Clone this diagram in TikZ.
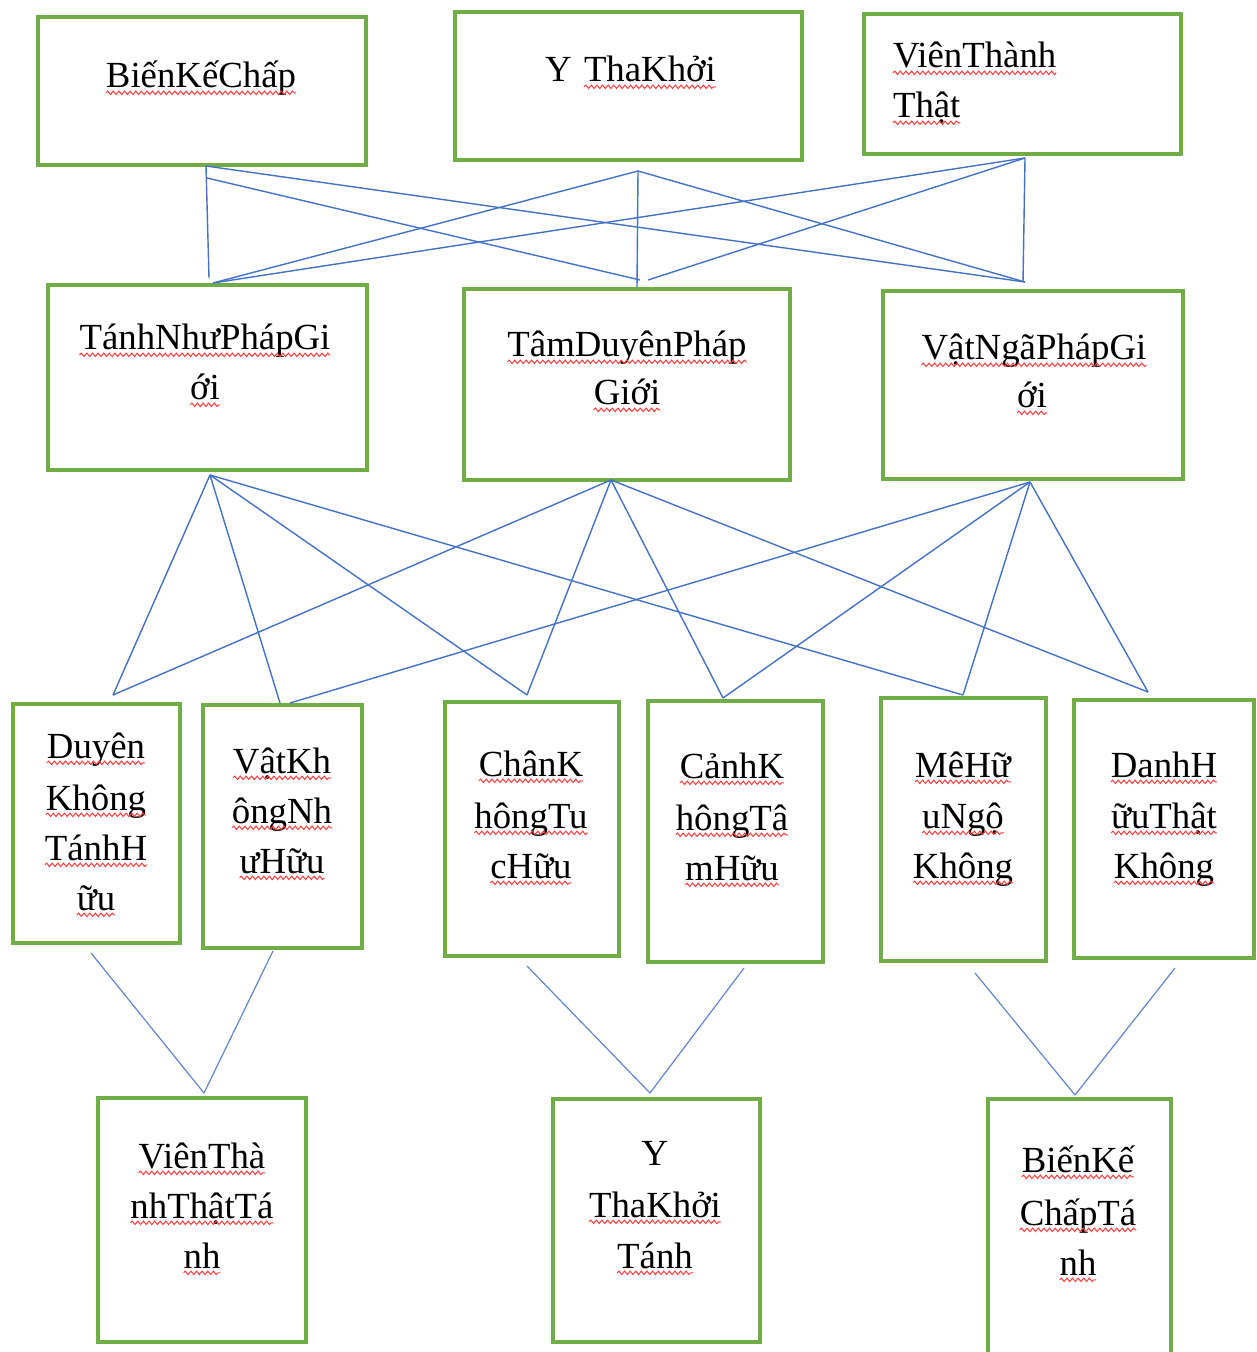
\documentclass[tikz,border=0pt]{standalone}
\usepackage{fontspec}
\setmainfont{Liberation Serif}
\usetikzlibrary{calc,fit,decorations.pathmorphing}
\definecolor{boxgreen}{RGB}{112,173,71}
\definecolor{linkblue}{RGB}{68,114,196}
\definecolor{wavered}{RGB}{255,60,60}
\newcommand\bx[5]{\node[box,fit={(#2,#3) (#4,#5)}] (#1) {};}
\newcommand\tl[5][]{\node[txt,#1] (#2) at (#3,#4) {#5};
  \draw[wave] ([yshift=-2.4pt]#2.base west) -- ([yshift=-2.4pt]#2.base east);}
\begin{document}
\begin{tikzpicture}[x=0.5pt,y=-0.5pt,
  box/.style={draw=boxgreen,line width=1.8pt,rectangle,inner sep=0pt,outer sep=0pt},
  txt/.style={inner sep=0pt,outer sep=0pt,anchor=base,font=\fontsize{18.4}{25}\selectfont},
  link/.style={draw=linkblue,line width=0.7pt},
  linkb/.style={draw=linkblue!85,line width=0.6pt},
  wave/.style={draw=wavered,line width=0.5pt,decorate,decoration={snake,amplitude=0.85pt,segment length=2.8pt}}]
\useasboundingbox (0,0) rectangle (1256,1352);
\clip (0,0) rectangle (1256,1352);
\fill[white] (0,0) rectangle (1256,1352);

% boxes
\bx{B1}{38}{17}{366}{165}
\bx{B2}{455}{12}{802}{160}
\bx{B3}{864}{14}{1181}{154}
\bx{M1}{48}{285}{367}{470}
\bx{M2}{464}{289}{790}{480}
\bx{M3}{883}{291}{1183}{479}
\bx{L1}{13}{704}{180}{943}
\bx{L2}{203}{705}{362}{948}
\bx{L3}{445}{702}{619}{956}
\bx{L4}{648}{701}{823}{962}
\bx{L5}{881}{698}{1046}{961}
\bx{L6}{1074}{700}{1254}{958}
\bx{P1}{98}{1098}{306}{1342}
\bx{P2}{553}{1099}{760}{1342}
\bx{P3}{988}{1099}{1171}{1400}

% texts
\tl{tB1}{201}{88}{BiếnKếChấp}
\node[txt,anchor=base west] (tB2y) at (545,82) {Y};
\tl[anchor=base west]{tB2}{584}{82}{ThaKhởi}
\tl[anchor=base west]{tB3a}{893}{68}{ViênThành}
\tl[anchor=base west]{tB3b}{893}{118}{Thật}

\tl{tM1a}{205}{350}{TánhNhưPhápGi}
\tl{tM1b}{205}{400}{ới}
\tl{tM2a}{627}{357}{TâmDuyênPháp}
\tl{tM2b}{627}{405}{Giới}
\tl{tM3a}{1034}{360}{VậtNgãPhápGi}
\tl{tM3b}{1032}{408}{ới}

\tl{tL1a}{96}{758}{Duyên}
\tl{tL1b}{96}{810}{Không}
\tl{tL1c}{96}{860}{TánhH}
\tl{tL1d}{96}{910}{ữu}
\tl{tL2a}{282}{773}{VậtKh}
\tl{tL2b}{282}{823}{ôngNh}
\tl{tL2c}{282}{873}{ưHữu}
\tl{tL3a}{531}{776}{ChânK}
\tl{tL3b}{531}{828}{hôngTu}
\tl{tL3c}{531}{878}{cHữu}
\tl{tL4a}{732}{778}{CảnhK}
\tl{tL4b}{732}{830}{hôngTâ}
\tl{tL4c}{732}{880}{mHữu}
\tl{tL5a}{963}{777}{MêHữ}
\tl{tL5b}{963}{828}{uNgộ}
\tl{tL5c}{963}{878}{Không}
\tl{tL6a}{1164}{777}{DanhH}
\tl{tL6b}{1164}{828}{ữuThật}
\tl{tL6c}{1164}{878}{Không}

\tl{tP1a}{202}{1168}{ViênThà}
\tl{tP1b}{202}{1218}{nhThậtTá}
\tl{tP1c}{202}{1268}{nh}
\node[txt] (tP2a) at (655,1165) {Y};
\tl{tP2b}{655}{1217}{ThaKhởi}
\tl{tP2c}{655}{1268}{Tánh}
\tl{tP3a}{1078}{1172}{BiếnKế}
\tl{tP3b}{1078}{1225}{ChấpTá}
\tl{tP3c}{1078}{1275}{nh}

% top -> middle
\draw[link] ([shift={(4,1)}]B1.south) -- ([shift={(1.5,-7)}]M1.north);
\draw[link] ([shift={(5,13)}]B1.south) -- ([shift={(13,-9)}]M2.north);
\draw[link] ([shift={(4,1)}]B1.south) -- ([shift={(-8,-9)}]M3.north);
\draw[link] ([shift={(9.5,11)}]B2.south) -- ([shift={(5.5,-2)}]M1.north);
\draw[link] ([shift={(9.5,11)}]B2.south) -- ([shift={(10,-2)}]M2.north);
\draw[link] ([shift={(9.5,11)}]B2.south) -- ([shift={(-8,-9)}]M3.north);
\draw[link] ([shift={(2.5,4)}]B3.south) -- ([shift={(5.5,-2)}]M1.north);
\draw[link] ([shift={(2.5,4)}]B3.south) -- ([shift={(21,-9)}]M2.north);
\draw[link] ([shift={(2.5,4)}]B3.south) -- ([shift={(-10,-9)}]M3.north);

% middle -> third row
\draw[link] ([shift={(2.5,5)}]M1.south) -- ([shift={(16.5,-9)}]L1.north);
\draw[link] ([shift={(2.5,5)}]M1.south) -- ([shift={(-2.5,-2)}]L2.north);
\draw[link] ([shift={(2.5,5)}]M1.south) -- ([shift={(-5,-7)}]L3.north);
\draw[link] ([shift={(2.5,5)}]M1.south) -- ([shift={(-0.5,-3)}]L5.north);
\draw[link] ([shift={(-16,0)}]M2.south) -- ([shift={(16.5,-9)}]L1.north);
\draw[link] ([shift={(-16,0)}]M2.south) -- ([shift={(-5,-7)}]L3.north);
\draw[link] ([shift={(-16,0)}]M2.south) -- ([shift={(-12.5,-3)}]L4.north);
\draw[link] ([shift={(-16,0)}]M2.south) -- ([shift={(-16,-8)}]L6.north);
\draw[link] ([shift={(-3,3)}]M3.south) -- ([shift={(7.5,-2)}]L2.north);
\draw[link] ([shift={(-3,3)}]M3.south) -- ([shift={(-12.5,-3)}]L4.north);
\draw[link] ([shift={(-3,3)}]M3.south) -- ([shift={(-0.5,-3)}]L5.north);
\draw[link] ([shift={(-3,3)}]M3.south) -- ([shift={(-16,-8)}]L6.north);

% third row -> bottom
\draw[linkb] ([shift={(-5.5,10)}]L1.south) -- ([shift={(2,-5)}]P1.north);
\draw[linkb] ([shift={(-9.5,3)}]L2.south) -- ([shift={(2,-5)}]P1.north);
\draw[linkb] ([shift={(-5,10)}]L3.south) -- ([shift={(-6.5,-6)}]P2.north);
\draw[linkb] ([shift={(8.5,6)}]L4.south) -- ([shift={(-6.5,-6)}]P2.north);
\draw[linkb] ([shift={(11.5,12)}]L5.south) -- ([shift={(-4.5,-4)}]P3.north);
\draw[linkb] ([shift={(11,10)}]L6.south) -- ([shift={(-4.5,-4)}]P3.north);
\end{tikzpicture}
\end{document}
